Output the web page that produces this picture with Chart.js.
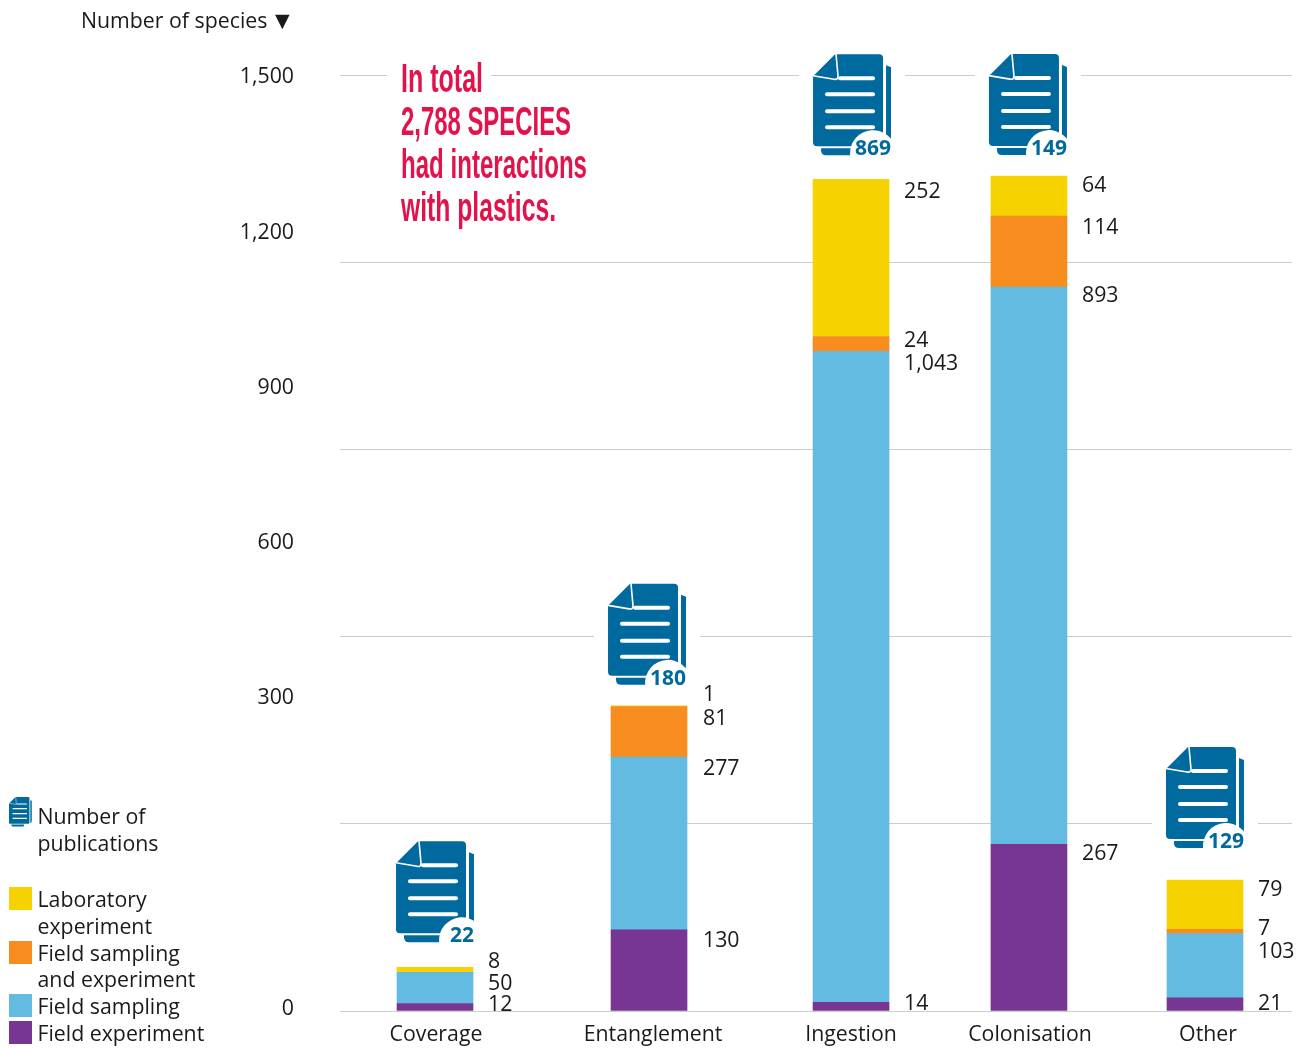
<!DOCTYPE html>
<html><head><meta charset="utf-8">
<style>html,body{margin:0;padding:0;background:#fff}canvas{display:block}</style>
<script src="https://cdn.jsdelivr.net/npm/chart.js@4"></script></head>
<body><canvas id="c" width="1306" height="1048"></canvas>
<script>
const categories = ['Coverage','Entanglement','Ingestion','Colonisation','Other'];
const fieldExperiment = [12,130,14,267,21];
const fieldSampling = [50,277,1043,893,103];
const fieldSamplingAndExperiment = [0,81,24,114,7];
const laboratoryExperiment = [8,1,252,64,79];
const publications = [22,180,869,149,129];
const yTickLabels = ['0','300','600','900','1,200','1,500'];
const headingLines = ['In total','2,788 SPECIES','had interactions','with plastics.'];

// layout helpers (scale units / pixel nudges)
const barSlots = [9.98,32.46,53.68,72.37,90.86];
const labelSlots = [10.08,32.88,53.68,72.48,91.18];
const yLabelAnchors = [3,501,750,998,1247,1497];
const iconRise = [126,122,125,122,133];
const iconShift = [-39,-41,-38,-40,-39];
const labelNudge = {
  fieldExperiment:[-1,9,0,8,4],
  fieldSampling:[10,10,10,7,16],
  fieldSamplingAndExperiment:[null,10,2,10,-2],
  laboratoryExperiment:[-7,-13,11,8,8]
};
const labelDx = [15,16,15,15,15];

const FONT = '"Open Sans", sans-serif', TEXT = '#1a1a1a', BLUE = '#006a9e';
const SIZE = 21.3;
const colors = {lab:'#f6d200',mix:'#f78d1e',samp:'#64bbe1',exp:'#773694'};
const toXY = vals => vals.map((v,i)=>({x:barSlots[i],y:v}));

function iconPath(c){
  c.beginPath();
  c.moveTo(25,0);c.lineTo(66,0);c.quadraticCurveTo(70,0,70,4);
  c.lineTo(70,88);c.quadraticCurveTo(70,92,66,92);
  c.lineTo(4,92);c.quadraticCurveTo(0,92,0,88);
  c.lineTo(0,22);c.lineTo(22,0);c.closePath();
}
function drawIcon(c,x,y,s,num){
  c.save();c.translate(x,y);c.scale(s,s);
  c.fillStyle=BLUE;iconPath(c);c.fill();
  c.beginPath();c.moveTo(73,11);c.lineTo(78,13);c.lineTo(78,82);c.quadraticCurveTo(78,88,73,89);c.closePath();c.fill();
  c.beginPath();c.moveTo(8,94);c.lineTo(52,94);c.lineTo(50,101);c.lineTo(13,101);c.quadraticCurveTo(8,101,8,96);c.closePath();c.fill();
  c.strokeStyle='#fff';c.lineWidth=1.6;c.lineCap='round';
  c.beginPath();c.moveTo(23,0);c.lineTo(25,22);c.quadraticCurveTo(25,26,21,25);c.lineTo(0,21.5);c.stroke();
  c.lineWidth=4;
  [[27,24],[14,40],[14,57],[14,73]].forEach(([a,b])=>{c.beginPath();c.moveTo(a,b);c.lineTo(60,b);c.stroke();});
  if(num!==undefined){
    const label=String(num);
    const cx=60+(3-label.length)*6;
    c.fillStyle='#fff';c.beginPath();c.arc(cx,99,23,Math.PI*0.98,Math.PI*1.95);c.lineTo(cx+23,102);c.lineTo(cx-23,102);c.closePath();c.fill();
    c.fillStyle=BLUE;c.font='bold 21px '+FONT;c.textAlign='right';c.textBaseline='middle';
    c.fillText(label,78,95);
  }
  c.restore();
}
function text(c,t,x,y,align){c.textAlign=align||'left';c.textBaseline='middle';c.fillText(t,x,y+2);}

const annotate = {
  id:'annotate',
  beforeDatasetsDraw(ch){
    const c=ch.ctx,y=ch.scales.y;
    c.save();c.fillStyle='#fff';
    c.fillRect(387,y.getPixelForValue(1500)-3,104,6);
    categories.forEach((_,i)=>{
      const top=y.getPixelForValue(fieldExperiment[i]+fieldSampling[i]+fieldSamplingAndExperiment[i]+laboratoryExperiment[i]);
      const cx=ch.scales.x.getPixelForValue(barSlots[i]);
      const l=cx+iconShift[i];
      c.fillRect(l-14,top-iconRise[i]-2,106,iconRise[i]-18);
    });
    c.restore();
  },
  afterDatasetsDraw(ch){
    const c=ch.ctx,y=ch.scales.y,x=ch.scales.x;
    c.save();
    c.fillStyle=TEXT;c.font=SIZE+'px '+FONT;
    const keys=['fieldExperiment','fieldSampling','fieldSamplingAndExperiment','laboratoryExperiment'];
    ch.data.datasets.forEach((ds,d)=>{
      const meta=ch.getDatasetMeta(d);
      meta.data.forEach((el,i)=>{
        const nudge=labelNudge[keys[d]][i];
        const v=ds.data[i].y;
        if(nudge===null||!v)return;
        text(c,v.toLocaleString('en-US'),el.x+38+labelDx[i],el.y+nudge);
      });
    });
    categories.forEach((_,i)=>{
      const top=y.getPixelForValue(fieldExperiment[i]+fieldSampling[i]+fieldSamplingAndExperiment[i]+laboratoryExperiment[i]);
      drawIcon(c,x.getPixelForValue(barSlots[i])+iconShift[i],top-iconRise[i],1,publications[i]);
    });
    c.fillStyle=TEXT;c.font=SIZE+'px '+FONT;
    text(c,'Number of species',81,20);
    c.font='19px "DejaVu Sans", sans-serif';
    text(c,'▼',275,20);
    c.fillStyle='#e2134b';c.font='bold 40px "Liberation Sans Narrow", "Liberation Sans", sans-serif';
    c.textBaseline='alphabetic';c.textAlign='left';
    const widths=[82,170,186,155];
    headingLines.forEach((t,i)=>{
      const w=c.measureText(t).width;
      c.save();c.translate(401,92+43*i);c.scale(widths[i]/w,1);c.fillText(t,0,0);c.restore();
    });
    drawIcon(c,9,797,0.292);
    c.font=SIZE+'px '+FONT;
    [['Number of',816],['publications',843],['Laboratory',899],['experiment',926],['Field sampling',953],['and experiment',979],['Field sampling',1006],['Field experiment',1033]]
      .forEach(([t,ty])=>{c.fillStyle=TEXT;text(c,t,37.5,ty);});
    [[colors.lab,887],[colors.mix,941],[colors.samp,994],[colors.exp,1021]].forEach(([col,sy])=>{c.fillStyle=col;c.fillRect(9,sy,23,23);});
    c.restore();
  }
};

new Chart(document.getElementById('c'),{
  type:'bar',
  data:{datasets:[
    {label:'Field experiment',data:toXY(fieldExperiment),backgroundColor:colors.exp},
    {label:'Field sampling',data:toXY(fieldSampling),backgroundColor:colors.samp},
    {label:'Field sampling and experiment',data:toXY(fieldSamplingAndExperiment),backgroundColor:colors.mix},
    {label:'Laboratory experiment',data:toXY(laboratoryExperiment),backgroundColor:colors.lab}
  ]},
  plugins:[annotate],
  options:{
    responsive:false,animation:false,
    layout:{autoPadding:false,padding:{top:75,right:14,bottom:0,left:0}},
    datasets:{bar:{barThickness:76,borderWidth:0}},
    plugins:{legend:{display:false},tooltip:{enabled:false},title:{display:false}},
    scales:{
      x:{type:'linear',stacked:true,offset:false,min:0,max:100,
        grid:{display:false,drawTicks:false},border:{display:false},
        afterBuildTicks:s=>{s.ticks=labelSlots.map(v=>({value:v}));},
        afterFit:s=>{s.height=37;},
        ticks:{autoSkip:false,maxRotation:0,padding:11,color:TEXT,font:{family:'"Open Sans", sans-serif',size:SIZE},callback:(v,i)=>categories[i]}
      },
      y:{stacked:true,min:0,max:1500,position:'left',weight:0,
        grid:{color:'#cccccc',lineWidth:1,drawTicks:false},border:{display:false},
        ticks:{display:false,stepSize:300},
        afterFit:s=>{s.width=46;}
      },
      yl:{min:0,max:1500,position:'left',weight:1,
        grid:{display:false,drawTicks:false},border:{display:false},
        afterBuildTicks:s=>{s.ticks=yLabelAnchors.map(v=>({value:v}));},
        afterFit:s=>{s.width=294;},
        ticks:{autoSkip:false,padding:0,color:TEXT,font:{family:'"Open Sans", sans-serif',size:SIZE},callback:(v,i)=>yTickLabels[i]}
      }
    }
  }
});
</script></body></html>
